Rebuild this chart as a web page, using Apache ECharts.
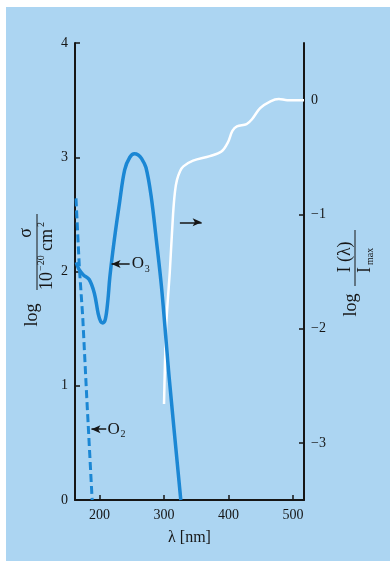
<!DOCTYPE html>
<html>
<head>
<meta charset="utf-8">
<script src="https://cdn.jsdelivr.net/npm/echarts@6/dist/echarts.min.js"></script>
<style>
  html, body { margin: 0; background: #fff; }
  #main { width: 390px; height: 563px; }
</style>
</head>
<body>
<div id="main"></div>
<script>
// ozone cross section (left axis)
const o3Lambda = [164, 168, 175, 184, 192, 198, 202, 205, 209, 213, 216, 223, 231, 239, 247, 254, 260, 265, 272, 280, 288, 296, 304, 308, 326];
const o3Sigma  = [2.08, 2.02, 1.97, 1.93, 1.81, 1.63, 1.56, 1.55, 1.58, 1.75, 1.95, 2.28, 2.60, 2.89, 3.00, 3.03, 3.02, 2.99, 2.91, 2.66, 2.28, 1.87, 1.34, 1.07, 0.0];
// oxygen cross section (left axis)
const o2Lambda = [163.5, 168.8, 174, 180.2, 188.6];
const o2Sigma  = [2.64, 2.03, 1.60, 0.90, 0.0];
// solar intensity at ground (right axis)
const sunLambda = [300, 301.5, 303.5, 306.5, 309, 314, 317, 320, 325, 330, 345, 371, 389, 399, 406, 413, 428, 436, 449, 465, 478, 491, 517];
const sunLogI   = [-2.66, -2.3, -1.96, -1.7, -1.5, -1.0, -0.8, -0.7, -0.62, -0.58, -0.53, -0.49, -0.45, -0.37, -0.27, -0.23, -0.21, -0.17, -0.07, -0.01, 0.01, 0.0, 0.0];

const xTicks = [200, 300, 400, 500];
const rightTicks = [-3, -2, -1, 0];

const serif = '"Liberation Serif", "DejaVu Serif", serif';
const ink = '#161616';
const blue = '#1b87d4';

function pairs(xs, ys) {
  return xs.map((x, i) => [x, ys[i]]);
}

function txt(text, x, y, size, align, valign) {
  return {
    type: 'text',
    style: {
      text: text, x: x, y: y,
      font: size + 'px ' + serif,
      fill: ink,
      textAlign: align || 'left',
      textVerticalAlign: valign || 'middle'
    }
  };
}

const chart = echarts.init(document.getElementById('main'));

const option = {
  animation: false,
  grid: { left: 75, right: 86, top: 43, bottom: 63 },
  xAxis: {
    type: 'value',
    min: 162,
    max: 517,
    name: 'λ [nm]',
    nameLocation: 'middle',
    nameGap: 30,
    nameTextStyle: { fontFamily: serif, fontSize: 16, color: ink },
    axisLine: { lineStyle: { color: ink, width: 2 } },
    axisTick: { inside: true, length: 5, customValues: xTicks, lineStyle: { color: ink, width: 1.5 } },
    axisLabel: { customValues: xTicks, fontFamily: serif, fontSize: 14, color: ink, margin: 8 },
    splitLine: { show: false }
  },
  yAxis: [
    {
      type: 'value',
      min: 0,
      max: 4,
      interval: 1,
      axisLine: { show: true, lineStyle: { color: ink, width: 2 } },
      axisTick: { show: true, inside: true, length: 5, lineStyle: { color: ink, width: 1.5 } },
      axisLabel: { fontFamily: serif, fontSize: 14, color: ink, margin: 7 },
      splitLine: { show: false }
    },
    {
      type: 'value',
      position: 'right',
      min: -3.5,
      max: 0.5,
      axisLine: { show: true, lineStyle: { color: ink, width: 2 } },
      axisTick: { show: true, inside: true, length: 5, customValues: rightTicks, lineStyle: { color: ink, width: 1.5 } },
      axisLabel: {
        customValues: rightTicks,
        fontFamily: serif, fontSize: 14, color: ink, margin: 7,
        formatter: v => (v < 0 ? '\u2212' + Math.abs(v) : String(v))
      },
      splitLine: { show: false }
    }
  ],
  graphic: [
    { type: 'rect', z: -10, silent: true, shape: { x: 6, y: 7, width: 384, height: 554 }, style: { fill: '#acd5f2' } },
    {
      // left axis title: log sigma / 10^-20 cm^2
      type: 'group', x: 37, y: 251, rotation: Math.PI / 2,
      children: [
        { type: 'line', shape: { x1: -39, y1: 0, x2: 37, y2: 0 }, style: { stroke: ink, lineWidth: 1 } },
        txt('σ', 18, -2, 18, 'center', 'bottom'),
        txt('10', -39, 10, 18, 'left', 'middle'),
        txt('\u221220', -20, 4, 10, 'left', 'middle'),
        txt('cm', 0, 10, 18, 'left', 'middle'),
        txt('2', 24, 4, 10, 'left', 'middle'),
        txt('log', -64, -5, 18, 'center', 'middle')
      ]
    },
    {
      // right axis title: log I(lambda) / I_max
      type: 'group', x: 355, y: 258, rotation: Math.PI / 2,
      children: [
        { type: 'line', shape: { x1: -28, y1: 0, x2: 28, y2: 0 }, style: { stroke: ink, lineWidth: 1 } },
        txt('I (λ)', 1, -1, 18, 'center', 'bottom'),
        txt('I', -12, 10, 18, 'center', 'middle'),
        txt('max', -7, 15, 10, 'left', 'middle'),
        txt('log', -47, -4, 18, 'center', 'middle')
      ]
    }
  ],
  series: [
    {
      name: 'O3',
      type: 'line',
      yAxisIndex: 0,
      data: pairs(o3Lambda, o3Sigma),
      smooth: 0.35,
      showSymbol: false,
      lineStyle: { color: blue, width: 3.5 },
      z: 3
    },
    {
      name: 'O2',
      type: 'line',
      yAxisIndex: 0,
      data: pairs(o2Lambda, o2Sigma),
      showSymbol: false,
      lineStyle: { color: blue, width: 3, type: [8, 4] },
      z: 3,
      markLine: {
        silent: true,
        symbol: ['arrow', 'none'],
        symbolSize: [6, 9],
        label: { show: false },
        lineStyle: { color: ink, width: 1.5, type: 'solid' },
        data: [
          [{ coord: [218.7, 2.066] }, { coord: [246.7, 2.066] }],
          [{ coord: [187.5, 0.62] }, { coord: [210.4, 0.62] }],
          [{ coord: [358.3, 2.43] }, { coord: [324.6, 2.43] }]
        ]
      }
    },
    {
      name: 'sun',
      type: 'line',
      yAxisIndex: 1,
      data: pairs(sunLambda, sunLogI),
      smooth: 0.35,
      showSymbol: false,
      lineStyle: { color: '#ffffff', width: 2.5 },
      z: 2
    }
  ]
};

chart.setOption(option);

// molecule labels next to the arrows
function molLabel(lam, val, sub) {
  const p = chart.convertToPixel({ xAxisIndex: 0, yAxisIndex: 0 }, [lam, val]);
  return [
    txt('O', p[0], p[1], 17, 'left', 'middle'),
    txt(sub, p[0] + 13, p[1] + 5, 10, 'left', 'middle')
  ];
}
chart.setOption({
  graphic: option.graphic.concat(molLabel(249.8, 2.066, '3'), molLabel(212.5, 0.62, '2'))
});
</script>
</body>
</html>
